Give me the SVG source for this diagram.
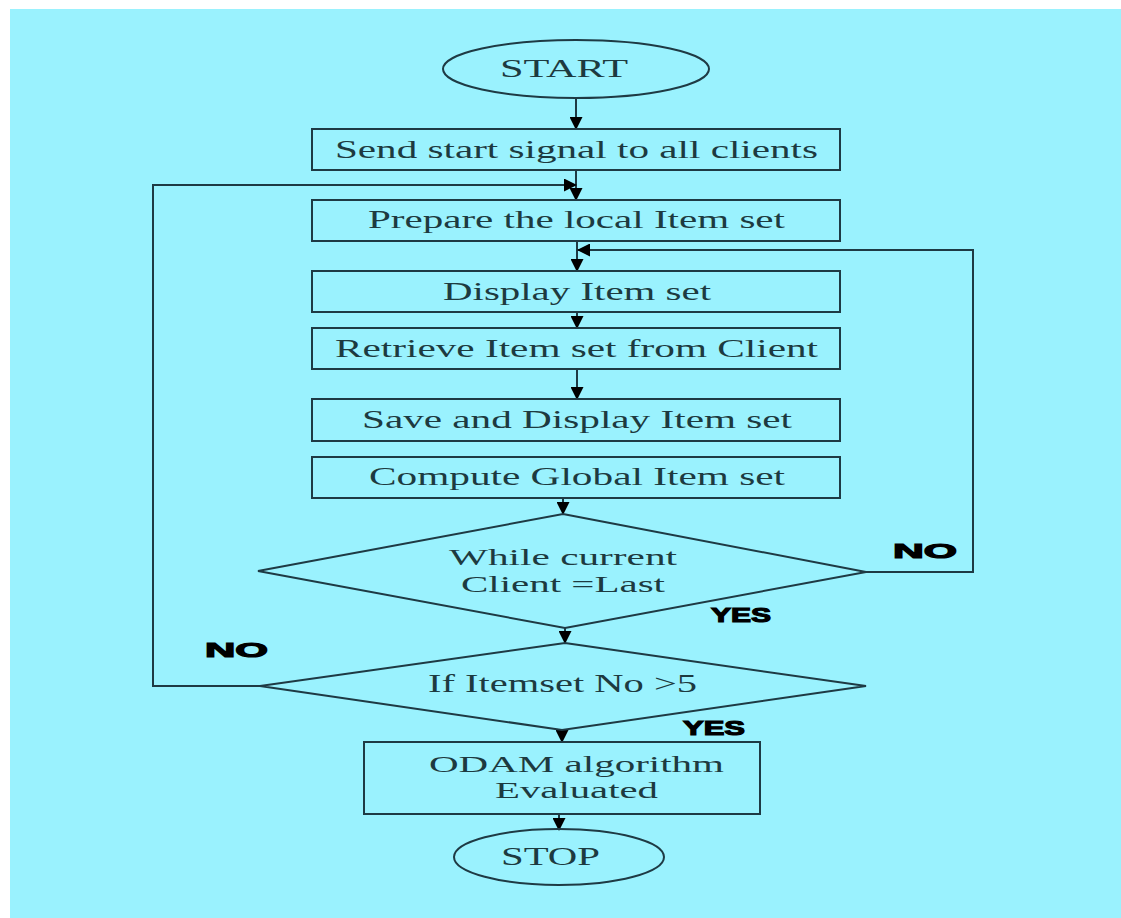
<svg xmlns="http://www.w3.org/2000/svg" width="1121" height="918" viewBox="0 0 1121 918">
<style>
.sh{fill:none;stroke:#1e3a44;stroke-width:2}
.ln{fill:none;stroke:#1e3a44;stroke-width:2}
.t{font-family:"Liberation Serif","Times New Roman",serif;font-size:25px;fill:#1d3a40}
.t2{font-family:"Liberation Serif","Times New Roman",serif;font-size:23px;fill:#1d3a40}
.lb{font-family:"Liberation Sans",Arial,sans-serif;font-size:21px;font-weight:bold;fill:#000;stroke:#000;stroke-width:1.2}
</style>
<defs>
<marker id="ah" markerUnits="userSpaceOnUse" markerWidth="13" markerHeight="13" refX="12" refY="6.5" orient="auto">
<path d="M0,0 L13,6.5 L0,13 z" fill="#000"/>
</marker>
</defs>
<rect x="0" y="0" width="1121" height="918" fill="#fff"/>
<rect x="10" y="9" width="1111" height="909" fill="#9af2fe"/>
<g id="connectors">
<line class="ln" x1="576" y1="98" x2="576" y2="129" marker-end="url(#ah)"/>
<line class="ln" x1="576" y1="170" x2="576" y2="200" marker-end="url(#ah)"/>
<path class="ln" d="M260,686 H153 V185 H576" marker-end="url(#ah)"/>
<line class="ln" x1="577" y1="241" x2="577" y2="271" marker-end="url(#ah)"/>
<path class="ln" d="M866,572 H973 V250 H578" marker-end="url(#ah)"/>
<line class="ln" x1="577" y1="312" x2="577" y2="328" marker-end="url(#ah)"/>
<line class="ln" x1="577" y1="369" x2="577" y2="399" marker-end="url(#ah)"/>
<line class="ln" x1="563" y1="498" x2="563" y2="514" marker-end="url(#ah)"/>
<line class="ln" x1="565" y1="628" x2="565" y2="643" marker-end="url(#ah)"/>
<line class="ln" x1="562" y1="730" x2="562" y2="742" marker-end="url(#ah)"/>
<line class="ln" x1="559" y1="814" x2="559" y2="830" marker-end="url(#ah)"/>
</g>
<g id="start">
<ellipse class="sh" cx="576" cy="69" rx="133" ry="29"/>
<text class="t" x="500" y="77" textLength="128" lengthAdjust="spacingAndGlyphs">START</text>
</g>
<g id="send">
<rect class="sh" x="312" y="129" width="528" height="41"/>
<text class="t" x="335" y="158" textLength="483" lengthAdjust="spacingAndGlyphs">Send start signal to all clients</text>
</g>
<g id="prepare">
<rect class="sh" x="312" y="200" width="528" height="41"/>
<text class="t" x="368" y="228" textLength="417" lengthAdjust="spacingAndGlyphs">Prepare the local Item set</text>
</g>
<g id="display">
<rect class="sh" x="312" y="271" width="528" height="41"/>
<text class="t" x="443" y="300" textLength="268" lengthAdjust="spacingAndGlyphs">Display Item set</text>
</g>
<g id="retrieve">
<rect class="sh" x="312" y="328" width="528" height="41"/>
<text class="t" x="335" y="357" textLength="483" lengthAdjust="spacingAndGlyphs">Retrieve Item set from Client</text>
</g>
<g id="save">
<rect class="sh" x="312" y="399" width="528" height="42"/>
<text class="t" x="362" y="428" textLength="430" lengthAdjust="spacingAndGlyphs">Save and Display Item set</text>
</g>
<g id="compute">
<rect class="sh" x="312" y="457" width="528" height="41"/>
<text class="t" x="369" y="485" textLength="416" lengthAdjust="spacingAndGlyphs">Compute Global Item set</text>
</g>
<g id="while">
<polygon class="sh" points="563,514 866,572 565,628 258,571"/>
<text class="t2" x="449" y="565" textLength="228" lengthAdjust="spacingAndGlyphs">While current</text>
<text class="t2" x="461" y="592" textLength="204" lengthAdjust="spacingAndGlyphs">Client =Last</text>
</g>
<g id="ifitemset">
<polygon class="sh" points="565,643 866,686 562,730 260,686"/>
<text class="t" x="428" y="692" textLength="269" lengthAdjust="spacingAndGlyphs">If Itemset No &gt;5</text>
</g>
<g id="odam">
<rect class="sh" x="364" y="742" width="396" height="72"/>
<text class="t2" x="429" y="772" textLength="295" lengthAdjust="spacingAndGlyphs">ODAM algorithm</text>
<text class="t2" x="495" y="798" textLength="163" lengthAdjust="spacingAndGlyphs">Evaluated</text>
</g>
<g id="stop">
<ellipse class="sh" cx="559" cy="857" rx="105" ry="28"/>
<text class="t" x="501" y="865" textLength="99" lengthAdjust="spacingAndGlyphs">STOP</text>
</g>
<g id="labels">
<text class="lb" x="893" y="558" textLength="64" lengthAdjust="spacingAndGlyphs">NO</text>
<text class="lb" x="711" y="622" textLength="60" lengthAdjust="spacingAndGlyphs">YES</text>
<text class="lb" x="205" y="657" textLength="63" lengthAdjust="spacingAndGlyphs">NO</text>
<text class="lb" x="683" y="735" textLength="62" lengthAdjust="spacingAndGlyphs">YES</text>
</g>
</svg>
